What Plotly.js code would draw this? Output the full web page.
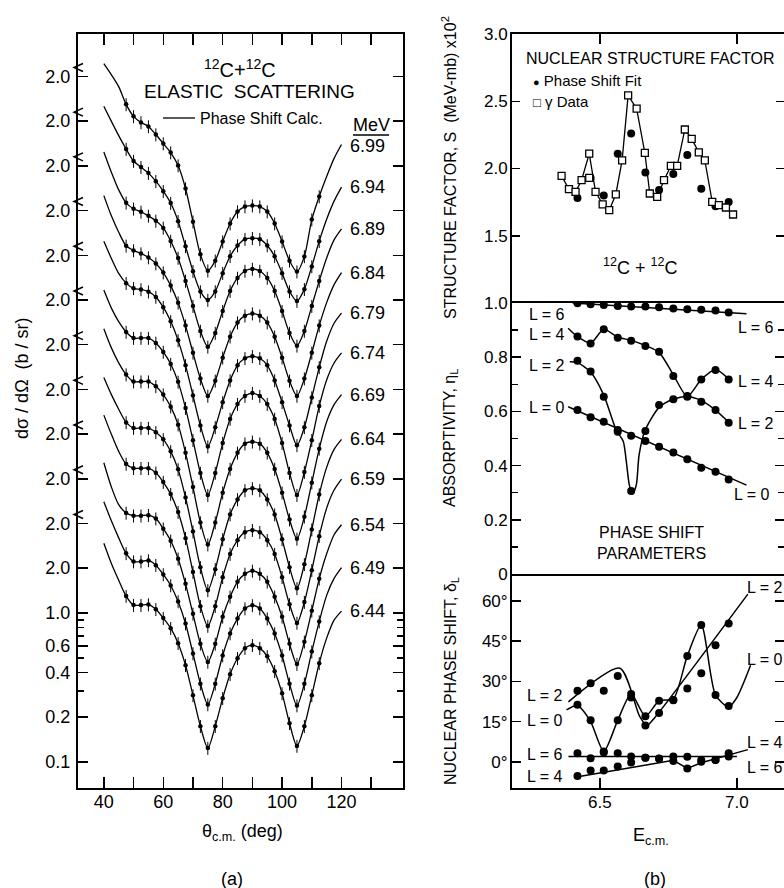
<!DOCTYPE html>
<html><head><meta charset="utf-8">
<script src="https://cdn.plot.ly/plotly-3.0.1.min.js"></script>
<style>body{margin:0;background:#fff}#chart{width:784px;height:888px}</style>
</head><body><div id="chart"></div>
<script>
// ---------- (a) 12C+12C elastic scattering ----------
const theta = [40,42.5,45,47.5,50,52.5,55,57.5,60,62.5,65,67.5,70,72.5,75,77.5,80,82.5,85,87.5,90,92.5,95,97.5,100,102.5,105,107.5,110,112.5,115,117.5,120];
const energyLabels = ['6.44','6.49','6.54','6.59','6.64','6.69','6.74','6.79','6.84','6.89','6.94','6.99'];
const cs644 = [2.94,2.16,1.66,1.30,1.13,1.13,1.14,1.06,0.924,0.791,0.627,0.446,0.280,0.174,0.124,0.174,0.268,0.388,0.497,0.581,0.608,0.581,0.512,0.407,0.289,0.182,0.128,0.174,0.280,0.460,0.678,0.896,1.03];
const cs649 = [2.80,2.09,1.60,1.26,1.11,1.11,1.13,1.05,0.910,0.767,0.599,0.426,0.268,0.168,0.122,0.168,0.260,0.365,0.460,0.537,0.564,0.537,0.460,0.365,0.260,0.168,0.120,0.168,0.276,0.439,0.658,0.855,1.01];
const cs654 = [2.56,1.77,1.34,1.18,1.13,1.13,1.14,1.08,0.924,0.767,0.581,0.394,0.248,0.156,0.118,0.156,0.237,0.323,0.407,0.460,0.482,0.460,0.407,0.323,0.237,0.156,0.114,0.161,0.260,0.426,0.627,0.842,0.983];
const cs659 = [2.68,2.00,1.53,1.26,1.18,1.18,1.18,1.10,0.953,0.791,0.599,0.400,0.237,0.140,0.103,0.140,0.219,0.313,0.388,0.439,0.453,0.439,0.388,0.313,0.219,0.144,0.108,0.149,0.244,0.413,0.637,0.842,0.998];
const cs664 = [2.40,1.85,1.47,1.20,1.10,1.10,1.10,1.03,0.924,0.767,0.581,0.376,0.222,0.128,0.0896,0.124,0.197,0.289,0.365,0.420,0.433,0.420,0.365,0.289,0.197,0.128,0.0924,0.134,0.229,0.394,0.599,0.791,0.924];
const cs669 = [2.56,1.91,1.51,1.26,1.13,1.13,1.13,1.05,0.924,0.767,0.581,0.376,0.222,0.128,0.091,0.128,0.203,0.293,0.376,0.433,0.446,0.433,0.376,0.293,0.203,0.134,0.0995,0.140,0.237,0.400,0.608,0.791,0.924];
const cs674 = [2.33,1.77,1.43,1.22,1.11,1.11,1.11,1.03,0.896,0.743,0.564,0.376,0.229,0.138,0.098,0.138,0.219,0.318,0.400,0.453,0.474,0.453,0.400,0.318,0.219,0.138,0.098,0.140,0.229,0.388,0.581,0.755,0.882];
const cs679 = [2.48,1.91,1.51,1.30,1.20,1.18,1.14,1.05,0.896,0.721,0.537,0.365,0.229,0.144,0.104,0.140,0.206,0.289,0.365,0.407,0.420,0.407,0.365,0.289,0.206,0.144,0.106,0.140,0.222,0.354,0.529,0.699,0.817];
const cs684 = [2.52,1.85,1.43,1.16,1.08,1.03,0.968,0.882,0.767,0.627,0.482,0.338,0.222,0.149,0.114,0.144,0.206,0.285,0.354,0.394,0.407,0.394,0.354,0.285,0.206,0.144,0.114,0.149,0.222,0.338,0.482,0.637,0.767];
const cs689 = [2.48,1.82,1.38,1.13,1.03,0.983,0.924,0.855,0.767,0.627,0.482,0.338,0.229,0.156,0.122,0.151,0.212,0.289,0.354,0.394,0.407,0.394,0.354,0.289,0.212,0.151,0.124,0.156,0.229,0.338,0.482,0.637,0.755];
const cs694 = [2.52,2.00,1.60,1.30,1.08,0.983,0.896,0.791,0.678,0.564,0.426,0.289,0.197,0.144,0.126,0.144,0.191,0.248,0.293,0.323,0.328,0.323,0.293,0.248,0.191,0.144,0.124,0.149,0.212,0.313,0.439,0.581,0.721];
const cs699 = [2.44,2.06,1.71,1.30,1.08,0.983,0.924,0.816,0.710,0.617,0.505,0.354,0.212,0.128,0.0995,0.116,0.156,0.206,0.248,0.268,0.272,0.268,0.248,0.206,0.156,0.116,0.098,0.124,0.219,0.313,0.426,0.564,0.699];
const leftTickText = ['0.1','0.2','0.4','0.6','1.0'];
const leftTickVals = [0.1,0.2,0.4,0.6,1.0];
const leftMinorVals = [0.3,0.5,0.7,0.8,0.9];

// ---------- (b) phase shift parameters ----------
const fitE   = [6.418,6.466,6.514,6.565,6.614,6.666,6.716,6.768,6.819,6.870,6.922,6.970];
const fitS   = [1.78,1.93,1.80,2.11,2.26,1.97,1.84,1.96,2.10,1.85,1.72,1.75];
const gammaE = [6.360,6.387,6.411,6.433,6.461,6.461,6.484,6.510,6.534,6.558,6.581,6.603,6.634,6.664,6.682,6.709,6.734,6.759,6.782,6.810,6.835,6.861,6.883,6.910,6.934,6.960,6.986];
const gammaS = [1.945,1.846,1.826,1.913,1.930,2.111,1.826,1.733,1.69,1.807,2.06,2.544,2.445,2.116,1.814,1.789,1.913,2.02,2.02,2.29,2.22,2.12,2.06,1.752,1.728,1.71,1.658];
const eta6 = [0.999,0.995,0.993,0.989,0.987,0.987,0.984,0.980,0.977,0.975,0.972,0.965];
const eta4 = [0.876,0.851,0.903,0.872,0.861,0.841,0.820,0.731,0.654,0.718,0.753,0.718];
const eta2 = [0.787,0.747,0.654,0.531,0.306,0.528,0.624,0.645,0.657,0.636,0.605,0.558];
const eta0 = [0.605,0.578,0.562,0.525,0.510,0.491,0.470,0.448,0.423,0.392,0.377,0.349];
const eta6LineE = [6.40,7.035], eta6LineV = [1.0,0.96];
const eta4LineE = [6.384,6.418,6.466,6.514,6.565,6.614,6.666,6.716,6.768,6.819,6.870,6.922,6.970];
const eta4LineV = [0.907,0.876,0.852,0.903,0.874,0.862,0.843,0.818,0.735,0.655,0.718,0.755,0.720];
const eta2LineE = [6.39,6.418,6.466,6.514,6.56,6.585,6.597,6.607,6.619,6.633,6.643,6.664,6.716,6.768,6.819,6.870,6.922,6.970];
const eta2LineV = [0.783,0.78,0.745,0.66,0.53,0.49,0.41,0.33,0.295,0.33,0.44,0.528,0.615,0.645,0.655,0.64,0.605,0.56];
const eta0LineE = [6.384,7.035], eta0LineV = [0.617,0.328];
const delta2 = [26.5,29.3,26.5,32.0,24.0,13.6,18.2,23.0,27.4,33.0,43.5,51.6];
const delta0 = [21.3,15.5,3.9,15.5,25.3,17.0,22.8,23.1,39.5,51.0,24.9,20.8];
const delta4 = [-5.2,-3.2,-3.2,-1.7,-0.2,1.6,1.3,0.4,-2.4,0.1,0.7,2.0];
const delta6 = [3.2,1.4,3.5,3.2,2.0,1.6,1.2,2.0,1.9,0.7,0.7,3.2];
const d2LineE = [6.385,6.573,6.645,6.672,6.70,7.04];
const d2LineV = [22.4,34.9,17.0,13.6,16.5,62.5];
const d0LineE = [6.378,6.418,6.466,6.514,6.565,6.614,6.666,6.716,6.768,6.819,6.870,6.922,6.970,7.0,7.05];
const d0LineV = [19.4,21.0,15.0,3.9,15.5,25.3,17.0,22.8,23.5,39.5,51.0,24.9,20.5,24.0,36.0];
const d4LineE = [6.43,6.768,6.819,6.870,7.04], d4LineV = [-5.3,0.6,-2.4,-0.3,4.6];
const d6LineE = [6.385,7.0], d6LineV = [2.0,2.0];

// ---------- layout helpers ----------
const W = 784, H = 888, MT = 34, MB = 100;
const PH = H - MT - MB;
const P = px => px / W;
const Q = py => (H - MB - py) / PH;
const FONT = 'Liberation Sans, Arial, Helvetica, sans-serif';
const BLK = '#000';
const DEC = 0.3;   // vertical offset between curves, in decades

const traces = [];
const annotations = [];
const shapes = [];
const curves = [cs644,cs649,cs654,cs659,cs664,cs669,cs674,cs679,cs684,cs689,cs694,cs699];
const twoVals = [];
curves.forEach((c, k) => {
  const f = Math.pow(10, DEC * k);
  const y = c.map(v => v * f);
  traces.push({x: theta, y: y, mode: 'lines', xaxis: 'x', yaxis: 'y', hoverinfo: 'skip',
    line: {shape: 'spline', smoothing: 0.8, color: BLK, width: 1.3}});
  traces.push({x: theta.slice(3, 30), y: y.slice(3, 30), mode: 'markers', xaxis: 'x', yaxis: 'y',
    marker: {size: 4.5, color: BLK},
    error_y: {type: 'percent', value: 10, width: 0, thickness: 1, color: BLK}});
  annotations.push({x: theta[theta.length - 1], y: Math.log10(y[y.length - 1]), xref: 'x', yref: 'y',
    text: energyLabels[k], showarrow: false, xanchor: 'left', yanchor: 'middle', xshift: 6, yshift: k === 11 ? -2 : 0, font: {size: 18}});
  twoVals.push(2.0 * f);
  if (k > 0) {
    shapes.push({type: 'path', xref: 'paper', yref: 'y', xsizemode: 'pixel', ysizemode: 'pixel',
      xanchor: P(78), yanchor: 2.0 * f, path: 'M 5 13 L -4 9 L 5 5', line: {color: BLK, width: 1.5}});
  }
});

// right panel traces
const onLine = gammaE.map((e, i) => i !== 4);
traces.push({x: gammaE.filter((e, i) => onLine[i]), y: gammaS.filter((e, i) => onLine[i]), mode: 'lines',
  xaxis: 'x2', yaxis: 'y2', line: {color: BLK, width: 1.3}});
traces.push({x: fitE, y: fitS, mode: 'markers', xaxis: 'x2', yaxis: 'y2', marker: {size: 8, color: BLK}});
traces.push({x: gammaE, y: gammaS, mode: 'markers', xaxis: 'x2', yaxis: 'y2',
  marker: {size: 7, symbol: 'square', color: '#fff', line: {color: BLK, width: 1.3}}});

const lineT = (x, y, xa, ya, spl) => ({x, y, mode: 'lines', xaxis: xa, yaxis: ya,
  line: {color: BLK, width: 1.5, shape: spl ? 'spline' : 'linear', smoothing: 0.7}});
const dotT = (x, y, xa, ya) => ({x, y, mode: 'markers', xaxis: xa, yaxis: ya, marker: {size: 8, color: BLK}});
traces.push(lineT(eta6LineE, eta6LineV, 'x3', 'y3'));
traces.push(lineT(eta4LineE, eta4LineV, 'x3', 'y3', true));
traces.push(lineT(eta2LineE, eta2LineV, 'x3', 'y3', true));
traces.push(lineT(eta0LineE, eta0LineV, 'x3', 'y3'));
[eta6, eta4, eta2, eta0].forEach(v => traces.push(dotT(fitE, v, 'x3', 'y3')));
traces.push(lineT(d2LineE, d2LineV, 'x4', 'y4', true));
traces.push(lineT(d0LineE, d0LineV, 'x4', 'y4', true));
traces.push(lineT(d4LineE, d4LineV, 'x4', 'y4'));
traces.push(lineT(d6LineE, d6LineV, 'x4', 'y4'));
[delta2, delta0, delta4, delta6].forEach(v => traces.push(dotT(fitE, v, 'x4', 'y4')));

// text
const A = (px, py, text, size, opts) => Object.assign({x: P(px), y: Q(py), xref: 'paper', yref: 'paper',
  xanchor: 'center', yanchor: 'middle', text, showarrow: false, font: {size: size || 18}}, opts || {});
annotations.push(
  A(240, 68, '<sup>12</sup>C+<sup>12</sup>C', 20),
  A(249, 92, 'ELASTIC\u00a0 SCATTERING', 19),
  A(198, 118, 'Phase Shift Calc.', 16, {xanchor: 'left'}),
  A(371, 125, 'MeV', 18),
  A(22, 378, 'd\u03c3 / d\u03a9\u00a0 (b / sr)', 18, {textangle: -90}),
  A(242, 832, '\u03b8<sub>c.m.</sub> (deg)', 18),
  A(232, 879, '(a)', 18),
  A(655, 879, '(b)', 18),
  A(449, 168, 'STRUCTURE FACTOR, S\u00a0 (MeV-mb) x10<sup>2</sup>', 16, {textangle: -90}),
  A(451, 438, 'ABSORPTIVITY, \u03b7<sub>L</sub>', 16, {textangle: -90}),
  A(451, 681, 'NUCLEAR PHASE SHIFT, \u03b4<sub>L</sub>', 16, {textangle: -90}),
  A(651, 836, 'E<sub>c.m.</sub>', 18),
  A(650, 59, 'NUCLEAR STRUCTURE FACTOR', 16),
  A(531, 81, '<span style="font-size:11px">\u25cf</span> Phase Shift Fit', 15, {xanchor: 'left'}),
  A(531, 101, '<span style="font-size:13px">\u25a1</span> \u03b3 Data', 15, {xanchor: 'left'}),
  A(640, 266, '<sup>12</sup>C + <sup>12</sup>C', 18),
  A(651, 543, 'PHASE SHIFT<br>PARAMETERS', 16)
);
// L labels (data coords)
const LL = (x, y, t, xa, ya) => ({x, y, xref: xa, yref: ya, text: t, showarrow: false,
  xanchor: 'center', yanchor: 'middle', font: {size: 16}});
annotations.push(
  LL(6.307, 0.956, 'L = 6', 'x3', 'y3'), LL(6.307, 0.882, 'L = 4', 'x3', 'y3'),
  LL(6.307, 0.771, 'L = 2', 'x3', 'y3'), LL(6.307, 0.613, 'L = 0', 'x3', 'y3'),
  LL(7.069, 0.908, 'L = 6', 'x3', 'y3'), LL(7.069, 0.712, 'L = 4', 'x3', 'y3'),
  LL(7.069, 0.554, 'L = 2', 'x3', 'y3'), LL(7.055, 0.292, 'L = 0', 'x3', 'y3'),
  LL(6.30, 24.6, 'L = 2', 'x4', 'y4'), LL(6.30, 15.6, 'L = 0', 'x4', 'y4'),
  LL(6.30, 2.6, 'L = 6', 'x4', 'y4'), LL(6.30, -5.6, 'L = 4', 'x4', 'y4'),
  LL(7.101, 65.1, 'L = 2', 'x4', 'y4'), LL(7.101, 38.3, 'L = 0', 'x4', 'y4'),
  LL(7.101, 7.1, 'L = 4', 'x4', 'y4'), LL(7.101, -2.2, 'L = 6', 'x4', 'y4')
);
shapes.push(
  {type: 'line', xref: 'paper', yref: 'paper', x0: P(353), x1: P(389), y0: Q(135), y1: Q(135), line: {color: BLK, width: 1.5}},
  {type: 'line', xref: 'paper', yref: 'paper', x0: P(163), x1: P(195), y0: Q(118), y1: Q(118), line: {color: BLK, width: 1.3}}
);

const baseAx = {showline: true, linecolor: BLK, linewidth: 2, ticks: 'inside', tickcolor: BLK, tickwidth: 1.5,
  showgrid: false, zeroline: false, tickfont: {size: 18, color: BLK}, ticklabelstandoff: 2};
const rightDom = [P(512), 1];
const yD4 = [0, Q(574)], yD3 = [Q(574), Q(303)], yD2 = [Q(303), 1];
const xR = [6.179, 7.172];

const layout = {
  width: W, height: H, margin: {l: 0, r: 0, t: MT, b: MB}, showlegend: false,
  paper_bgcolor: '#fff', plot_bgcolor: '#fff', font: {family: FONT, color: BLK},
  xaxis: Object.assign({}, baseAx, {domain: [P(78), P(403)], range: [31.3, 140.7], anchor: 'y',
    tickmode: 'array', tickvals: [40,50,60,70,80,90,100,110,120,130],
    ticktext: ['40','','60','','80','','100','','120',''], ticklen: 11, mirror: 'ticks', ticklabelstandoff: -4}),
  yaxis: Object.assign({}, baseAx, {domain: [0, 1], type: 'log', range: [-1.1745, 3.886], anchor: 'x',
    tickmode: 'array', tickvals: leftTickVals.concat(twoVals), ticktext: leftTickText.concat(twoVals.map(() => '2.0')),
    ticklen: 10, mirror: 'ticks',
    minor: {tickmode: 'array', tickvals: leftMinorVals, ticks: 'inside', ticklen: 6, tickcolor: BLK, tickwidth: 1.5}}),
  xaxis2: Object.assign({}, baseAx, {domain: rightDom, range: xR, anchor: 'y2', side: 'top',
    tickmode: 'array', tickvals: [6.5, 7.0], showticklabels: false, ticklen: 10}),
  xaxis3: Object.assign({}, baseAx, {domain: rightDom, range: xR, anchor: 'y3', ticks: '', showticklabels: false, mirror: true}),
  xaxis4: Object.assign({}, baseAx, {domain: rightDom, range: xR, anchor: 'y4',
    tickmode: 'array', tickvals: [6.5, 7.0], ticktext: ['6.5', '7.0'], ticklen: 10, tickfont: {size: 17}, ticklabelstandoff: -2}),
  yaxis2: Object.assign({}, baseAx, {domain: yD2, range: [1.0, 3.0], anchor: 'x2', mirror: 'ticks', ticklabelstandoff: -1,
    tickmode: 'array', tickvals: [1.5, 2.0, 2.5, 3.0], ticktext: ['1.5', '2.0', '2.5', '3.0'], ticklen: 8, tickfont: {size: 17}}),
  yaxis3: Object.assign({}, baseAx, {domain: yD3, range: [0, 1.0], anchor: 'x3', mirror: 'ticks', ticklabelstandoff: -1,
    tickmode: 'array', tickvals: [0, 0.2, 0.4, 0.6, 0.8, 1.0], ticktext: ['0', '0.2', '0.4', '0.6', '0.8', '1.0'],
    ticklen: 9, tickfont: {size: 17},
    minor: {tickmode: 'array', tickvals: [0.1, 0.3, 0.5, 0.7, 0.9], ticks: 'inside', ticklen: 6, tickcolor: BLK, tickwidth: 1.5}}),
  yaxis4: Object.assign({}, baseAx, {domain: yD4, range: [-9.7, 70], anchor: 'x4', mirror: 'ticks', ticklabelstandoff: -1,
    tickmode: 'array', tickvals: [0, 15, 30, 45, 60], ticktext: ['0\u00b0', '15\u00b0', '30\u00b0', '45\u00b0', '60\u00b0'],
    ticklen: 9, tickfont: {size: 17}}),
  annotations, shapes
};
Plotly.newPlot('chart', traces, layout, {staticPlot: true, displayModeBar: false});
</script></body></html>
